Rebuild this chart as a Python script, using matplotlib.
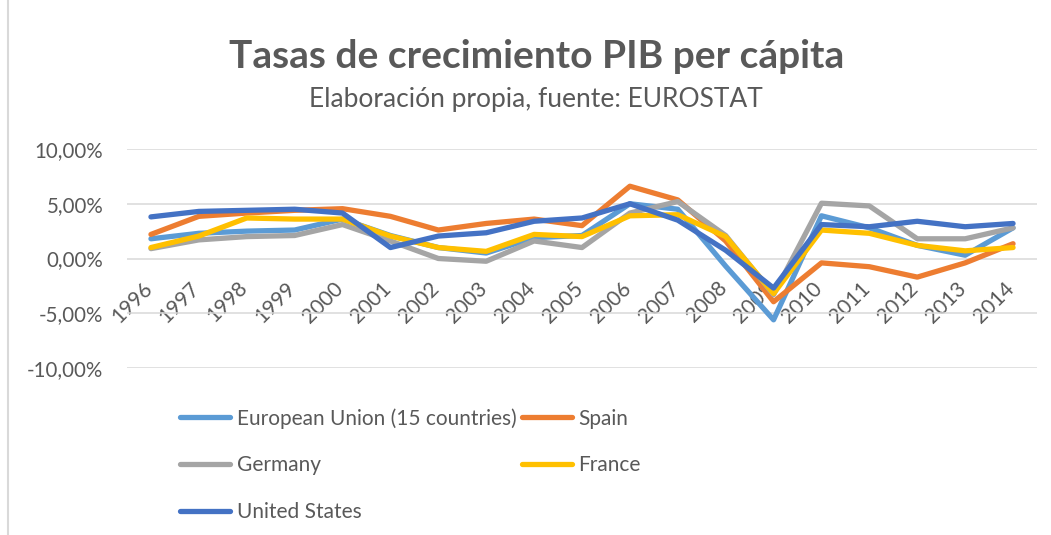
import matplotlib
matplotlib.use("Agg")
import matplotlib.pyplot as plt
import matplotlib.transforms as mtransforms
from matplotlib.lines import Line2D
from matplotlib.ticker import FuncFormatter, MultipleLocator

years = [str(y) for y in range(1996, 2015)]
eu15 = [1.8, 2.3, 2.5, 2.6, 3.6, 2.1, 1.0, 0.5, 1.9, 2.1, 5.0, 4.5, -0.7, -5.6, 3.9, 2.8, 1.2, 0.3, 2.8]
spain = [2.2, 3.85, 4.15, 4.4, 4.55, 3.85, 2.6, 3.2, 3.6, 3.0, 6.6, 5.35, 1.6, -3.95, -0.4, -0.75, -1.7, -0.4, 1.35]
germany = [0.9, 1.7, 2.0, 2.1, 3.1, 1.6, 0.0, -0.25, 1.6, 1.0, 4.15, 5.2, 2.1, -3.3, 5.05, 4.8, 1.8, 1.8, 2.8]
france = [1.0, 2.05, 3.7, 3.6, 3.6, 2.05, 1.0, 0.65, 2.2, 2.0, 3.9, 4.0, 2.0, -3.2, 2.6, 2.3, 1.2, 0.7, 1.0]
usa = [3.8, 4.3, 4.4, 4.5, 4.15, 1.0, 2.05, 2.35, 3.4, 3.7, 5.0, 3.5, 0.75, -2.7, 3.1, 2.9, 3.4, 2.9, 3.2]

series = [
    ("European Union (15 countries)", eu15, "#5B9BD5"),
    ("Spain", spain, "#ED7D31"),
    ("Germany", germany, "#A5A5A5"),
    ("France", france, "#FFC000"),
    ("United States", usa, "#4472C4"),
]

FONT = "Lato"
TXT = "#595959"
plt.rcParams["font.family"] = [FONT, "DejaVu Sans"]

W, H = 1051, 535
fig = plt.figure(figsize=(W / 100, H / 100), dpi=100)
fig.patch.set_facecolor("white")

left, right = 127 / W, 1037 / W
top, bottom = 1 - 149 / H, 1 - 368 / H
ax = fig.add_axes([left, bottom, right - left, top - bottom])

x = list(range(len(years)))
handles = {}
for name, vals, col in series:
    (ln,) = ax.plot(x, vals, color=col, lw=3.8, solid_capstyle="round",
                    solid_joinstyle="round", label=name, zorder=3)
    handles[name] = ln

ax.set_xlim(-0.5, len(years) - 0.5)
ax.set_ylim(-10, 10)
ax.yaxis.set_major_locator(MultipleLocator(5))
ax.yaxis.set_major_formatter(FuncFormatter(lambda v, p: f"{v:.2f}".replace(".", ",") + "%"))
ax.grid(axis="y", color="#D9D9D9", lw=1.1, zorder=0)
ax.set_axisbelow(True)
for s in ["top", "right", "left"]:
    ax.spines[s].set_visible(False)
ax.spines["bottom"].set_position(("data", 0))
ax.spines["bottom"].set_linewidth(0)

ax.set_xticks(x)
ax.set_xticklabels(years, rotation=45, ha="right", va="top")
ax.tick_params(axis="x", length=0, pad=14, labelsize=15, labelcolor=TXT)
ax.tick_params(axis="y", length=0, pad=17, labelsize=14.8, labelcolor=TXT)
off = mtransforms.ScaledTranslation(5 / 100, 0, fig.dpi_scale_trans)
for lab in ax.get_xticklabels():
    lab.set_transform(lab.get_transform() + off)

fig.text(537 / W, 1 - 57 / H, "Tasas de crecimiento PIB per cápita", ha="center", va="center",
         fontsize=28, fontweight="bold", color=TXT)
fig.text(536 / W, 1 - 100 / H, "Elaboración propia, fuente: EUROSTAT", ha="center", va="center",
         fontsize=19, color=TXT)

order = ["European Union (15 countries)", "Germany", "United States", "Spain", "France"]
leg = fig.legend([handles[n] for n in order], order, loc="upper left",
                 bbox_to_anchor=(180 / W, 1 - 408 / H), ncol=2, frameon=False,
                 fontsize=15, handlelength=2.4, handletextpad=0.33, columnspacing=0.24,
                 labelspacing=1.29, borderpad=0, borderaxespad=0)
for t in leg.get_texts():
    t.set_color(TXT)

fig.add_artist(Line2D([8 / W, 8 / W], [0, 1], color="#D9D9D9", lw=1.5, transform=fig.transFigure))

fig.savefig("out.png", dpi=100, facecolor="white")
